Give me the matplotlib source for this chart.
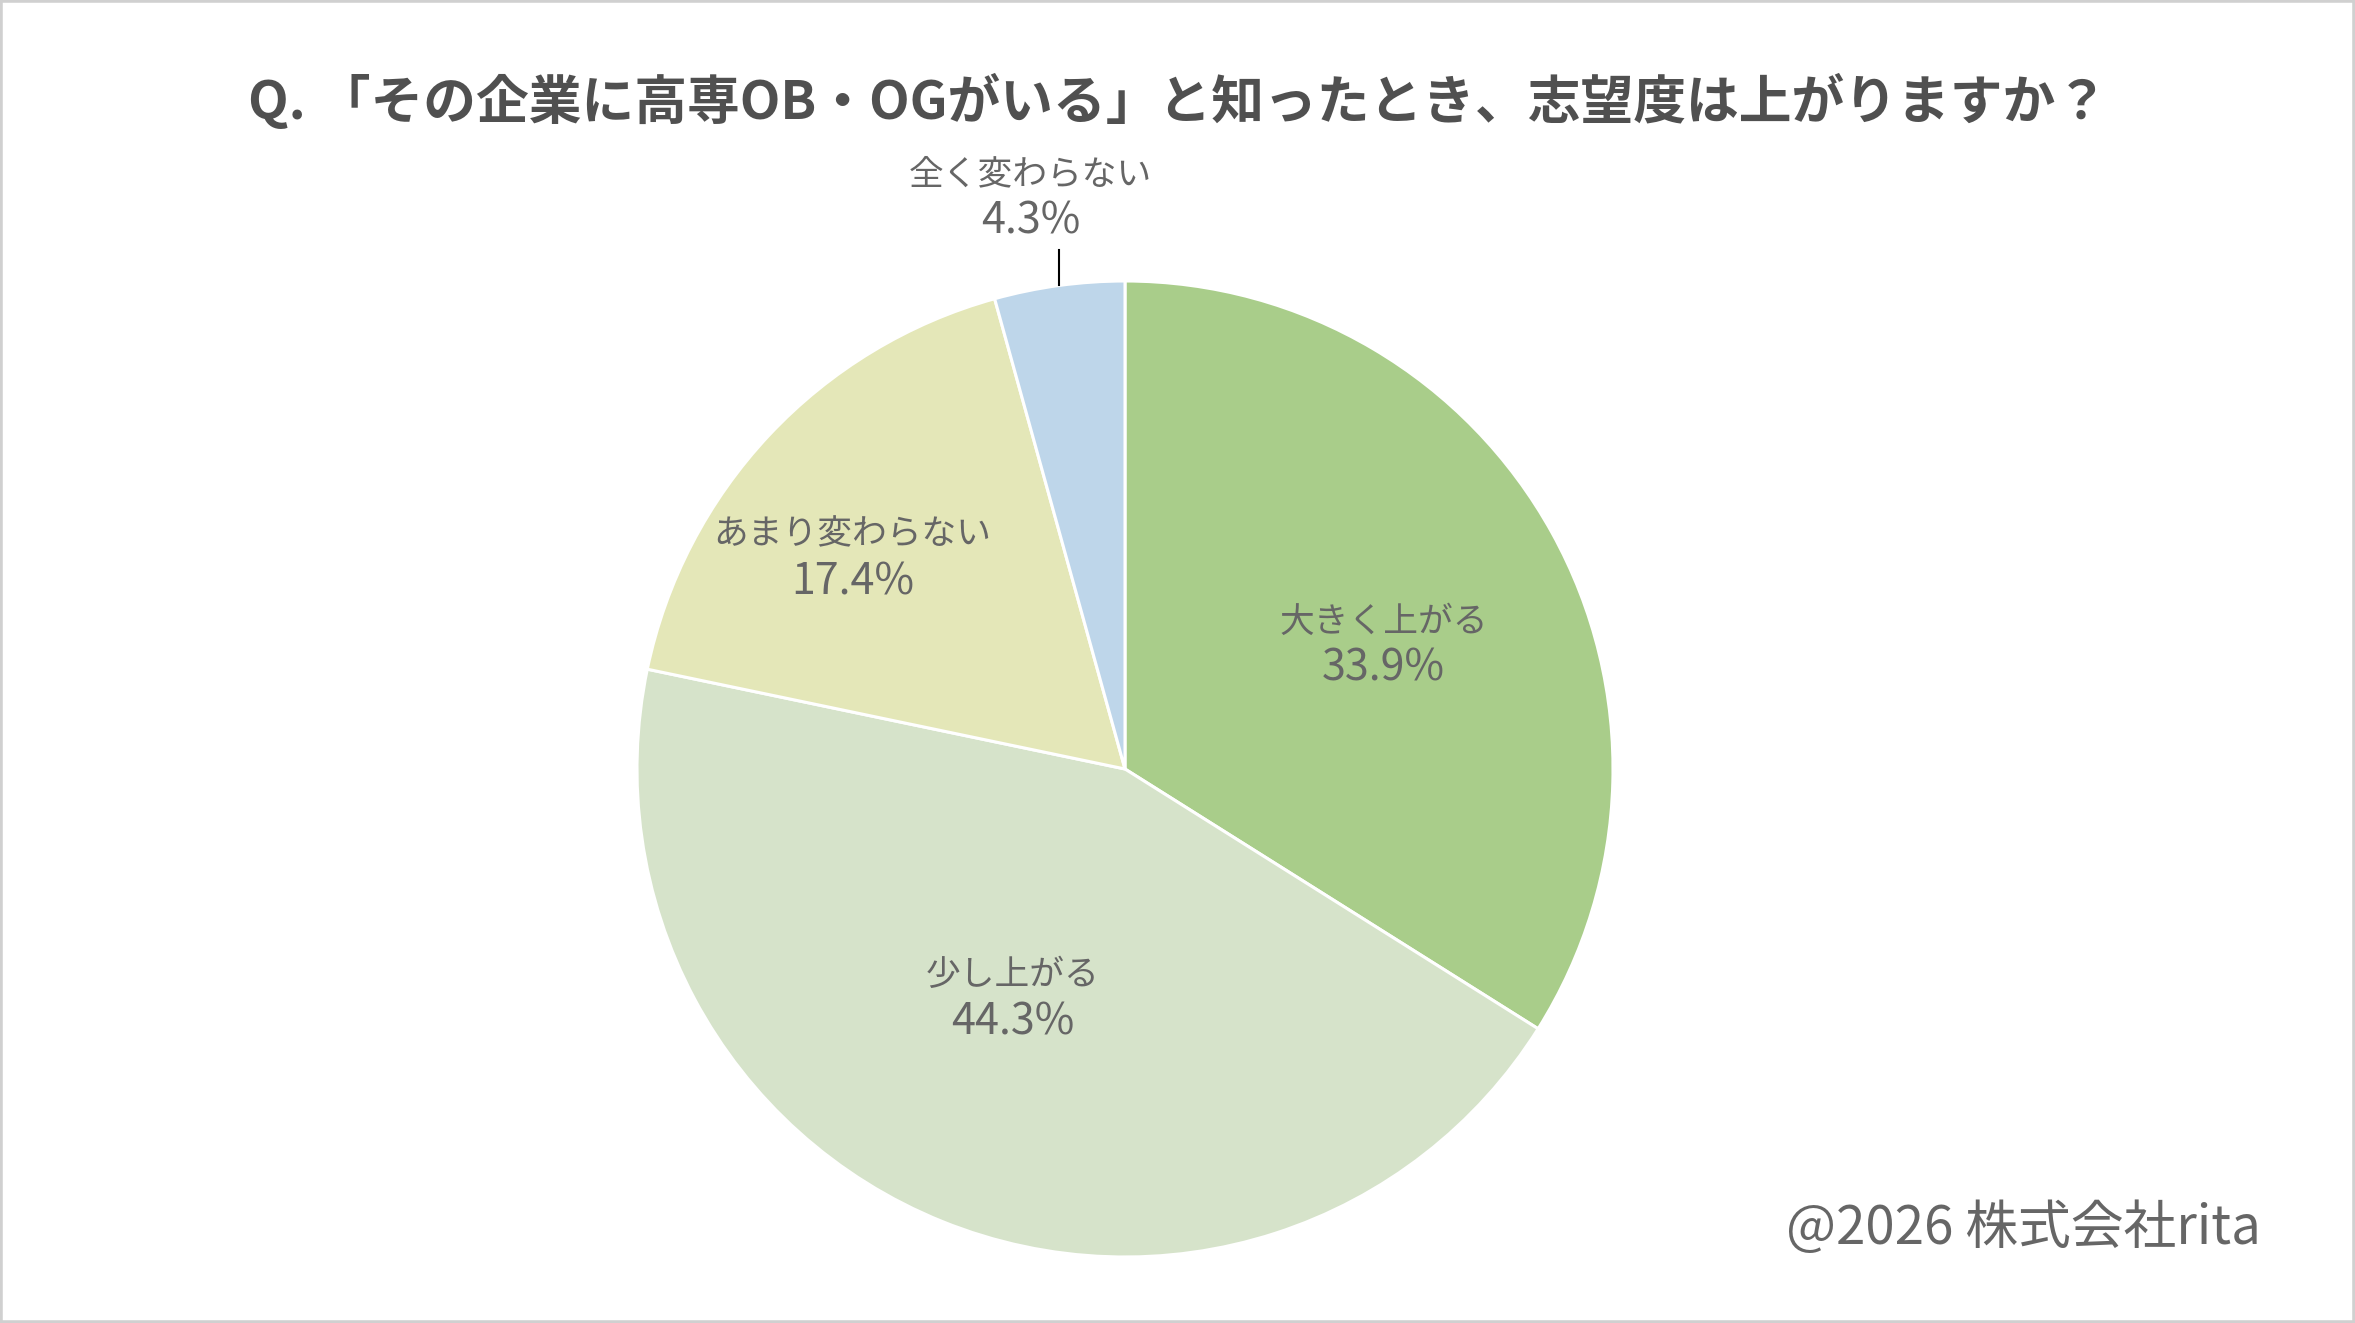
import matplotlib
matplotlib.use("Agg")
import matplotlib.pyplot as plt
import numpy as np
from matplotlib.patches import Rectangle

plt.rcParams['font.family'] = ['Noto Sans CJK JP', 'DejaVu Sans']

title = "Q. 「その企業に高専OB・OGがいる」と知ったとき、志望度は上がりますか？"
categories = ["大きく上がる", "少し上がる", "あまり変わらない", "全く変わらない"]
values = [33.9, 44.3, 17.4, 4.3]
colors = ["#A9CD8A", "#D6E3CA", "#E4E7B8", "#BED6EA"]
credit = "@2026 株式会社rita"

W, H = 2355, 1323
fig = plt.figure(figsize=(W / 100, H / 100), dpi=100)
fig.patch.set_facecolor("white")

cx, cy, r = 1125, 769, 488
ax = fig.add_axes([(cx - r) / W, 1 - (cy + r) / H, 2 * r / W, 2 * r / H])
wedges, _ = ax.pie(values, colors=colors, startangle=90, counterclock=False,
                   radius=1.0, normalize=True,
                   wedgeprops=dict(edgecolor="white", linewidth=2.2))
ax.set_xlim(-1, 1)
ax.set_ylim(-1, 1)
ax.set_aspect('equal')
ax.axis('off')

txt_color = "#666666"
# label anchor positions (in pie-radius units, relative to centre)
label_pos = [(0.530, 0.253), (-0.231, -0.471), (-0.558, 0.431), (-0.194, 1.17)]
half_gap = 0.048
for i, (w, cat, v) in enumerate(zip(wedges, categories, values)):
    x, y = label_pos[i]
    ax.text(x, y + half_gap, cat, ha='center', va='center', fontsize=25,
            color=txt_color, clip_on=False)
    ax.text(x, y - half_gap, f"{v:.1f}%", ha='center', va='center', fontsize=31,
            color=txt_color, clip_on=False)
    if i == 3:
        mid = np.deg2rad((w.theta1 + w.theta2) / 2)
        x0, y0 = np.cos(mid), np.sin(mid)
        ax.plot([x0, x0], [y0, y0 + 0.072], color="black", lw=1.5, clip_on=False)

fig.text(0.5, 1 - 102 / H, title, ha='center', va='center', fontsize=38,
         fontweight='bold', color="#505050")
fig.text(1505 * 1.502 / W, 1 - 818 * 1.502 / H, credit, ha='right', va='center',
         fontsize=38, color="#666666")

fig.patches.append(Rectangle((0, 0), 1, 1, transform=fig.transFigure,
                             fill=False, edgecolor="#D0D0D0", linewidth=4))

fig.savefig("out.png", dpi=100, facecolor="white")
